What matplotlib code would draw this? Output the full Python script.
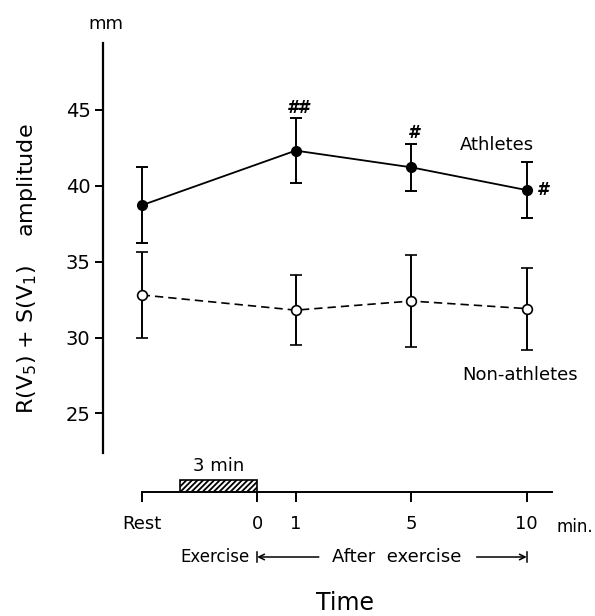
import matplotlib
matplotlib.use('Agg')
import matplotlib.pyplot as plt
from matplotlib.patches import Rectangle

# ---- data ----
time_labels = ['Rest', '0', '1', '5', '10']
time_positions = [0, 3, 4, 7, 10]
point_positions = [0, 4, 7, 10]
athletes_mean = [38.7, 42.3, 41.2, 39.7]
athletes_sd = [2.5, 2.15, 1.55, 1.85]
non_mean = [32.8, 31.8, 32.4, 31.9]
non_sd = [2.85, 2.3, 3.0, 2.7]
sig_marks = ['', '##', '#', '#']
yticks = [25, 30, 35, 40, 45]
exercise_span = (1, 3)

plt.rcParams['font.family'] = ['DejaVu Sans']
plt.rcParams['hatch.linewidth'] = 1.3

W, H = 595, 616
fig = plt.figure(figsize=(W / 100, H / 100), dpi=100)

ax_left_px, ax_right_px = 103, 580
ax_top_px, ax_bot_px = 42.7, 453
unit = 38.5
x0px = 141.7
xlim = ((ax_left_px - x0px) / unit, (ax_right_px - x0px) / unit)

ax = fig.add_axes([ax_left_px / W, 1 - ax_bot_px / H,
                   (ax_right_px - ax_left_px) / W, (ax_bot_px - ax_top_px) / H])
ax.set_xlim(xlim)
ax.set_ylim(22.4, 49.4)
for s in ['top', 'right', 'bottom']:
    ax.spines[s].set_visible(False)
ax.spines['left'].set_linewidth(1.6)
ax.set_xticks([])
ax.set_yticks(yticks)
ax.tick_params(axis='y', direction='out', length=6, width=1.4, labelsize=14, pad=3)
ax.patch.set_alpha(0)

# Athletes
ax.errorbar(point_positions, athletes_mean, yerr=athletes_sd, fmt='-o', color='black',
            mfc='black', mec='black', ms=7, lw=1.3, elinewidth=1.4, capsize=4.5, capthick=1.4)
# Non-athletes
ax.errorbar(point_positions, non_mean, yerr=non_sd, fmt='--o', color='black',
            mfc='white', mec='black', ms=7, mew=1.2, lw=1.2, elinewidth=1.4, capsize=4.5,
            capthick=1.4, dashes=(5, 3))

# significance marks
for x, m, s, mk in zip(point_positions, athletes_mean, athletes_sd, sig_marks):
    if not mk:
        continue
    if x == point_positions[-1]:
        ax.annotate(mk, (x, m), xytext=(7, 0), textcoords='offset points',
                    ha='left', va='center', fontsize=12, fontweight='bold', style='italic')
    else:
        ax.annotate(mk, (x, m + s), xytext=(2, 1), textcoords='offset points',
                    ha='center', va='bottom', fontsize=12, fontweight='bold', style='italic')

ax.text((497 - x0px) / unit, 41.2 + (167.7 - 145) / 15.3, 'Athletes', ha='center', va='center', fontsize=13)
ax.text((520 - x0px) / unit, 40 - (377 - 186) / 15.3, 'Non-athletes', ha='center', va='center', fontsize=13)

fig.text(106 / W, 1 - 24 / H, 'mm', ha='center', va='center', fontsize=13)
fig.text(27 / W, 1 - 269 / H, r'R(V$_5$) + S(V$_1$)    amplitude', rotation=90,
         ha='center', va='center', fontsize=16)

# ---- time axis ----
ax2_h = 40
ax2 = fig.add_axes([ax_left_px / W, 1 - 491.7 / H,
                    (ax_right_px - ax_left_px) / W, ax2_h / H])
ax2.set_xlim(xlim)
ax2.set_ylim(0, ax2_h)
ax2.patch.set_alpha(0)
for s in ['top', 'right', 'left']:
    ax2.spines[s].set_visible(False)
ax2.spines['bottom'].set_linewidth(1.4)
ax2.spines['bottom'].set_bounds(0, (551.7 - x0px) / unit)
ax2.set_yticks([])
ax2.set_xticks(time_positions)
ax2.set_xticklabels(time_labels)
ax2.tick_params(axis='x', direction='out', length=7, width=1.4, labelsize=13, pad=10)

ax2.add_patch(Rectangle((exercise_span[0], 0), exercise_span[1] - exercise_span[0], 12,
                        facecolor='white', edgecolor='black', hatch='//////', lw=1.2))
ax2.text(sum(exercise_span) / 2, 26, '3 min', ha='center', va='center', fontsize=13)

fig.text(593 / W, 1 - 527 / H, 'min.', ha='right', va='center', fontsize=12)

yy = -65.3
ax2.text(3.0 - 0.2, yy, 'Exercise', ha='right', va='center', fontsize=12)
ax2.annotate('', xy=(3.0, yy), xytext=(4.6, yy), arrowprops=dict(arrowstyle='->', lw=1.1, color='black', shrinkA=0, shrinkB=0),
             annotation_clip=False)
ax2.plot([3.0, 3.0], [yy - 5, yy + 5], color='black', lw=1.1, clip_on=False)
ax2.text((397 - x0px) / unit, yy, 'After  exercise', ha='center', va='center', fontsize=13)
ax2.annotate('', xy=(10.0, yy), xytext=(8.7, yy), arrowprops=dict(arrowstyle='->', lw=1.1, color='black', shrinkA=0, shrinkB=0),
             annotation_clip=False)
ax2.plot([10.0, 10.0], [yy - 5, yy + 5], color='black', lw=1.1, clip_on=False)

fig.text(345 / W, 1 - 603 / H, 'Time', ha='center', va='center', fontsize=17)

fig.savefig('out.png', dpi=100)
